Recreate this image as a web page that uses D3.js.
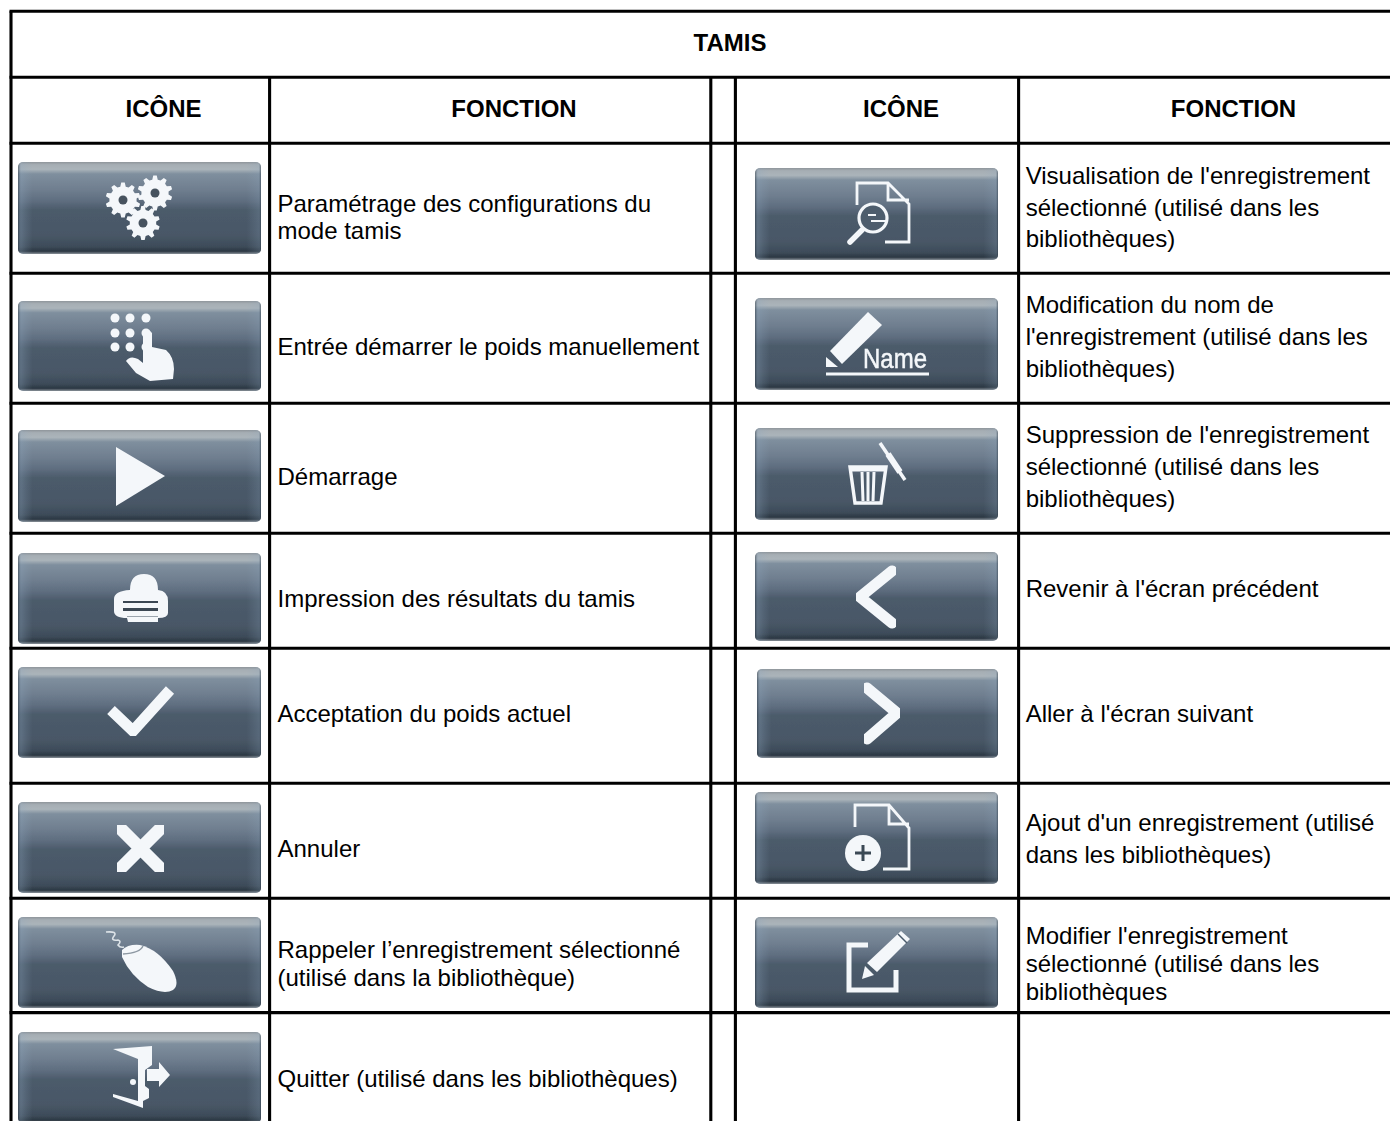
<!DOCTYPE html>
<html>
<head>
<meta charset="utf-8">
<style>
  html, body { margin: 0; padding: 0; background: #fff; overflow: hidden; }
  svg { display: block; }
  text { font-family: 'Liberation Sans', Arial, sans-serif; font-size: 24px; fill: #000; }
</style>
</head>
<body>
<div id="chart"></div>
<script src="https://cdn.jsdelivr.net/npm/d3@7"></script>
<script>
const title = 'TAMIS'
const headers = ['ICÔNE', 'FONCTION', 'ICÔNE', 'FONCTION']

const leftIcons = ['gears', 'keypad', 'play', 'printer', 'check', 'cross', 'mouse', 'exit']
const leftFunctions = [
  ['Paramétrage des configurations du', 'mode tamis'],
  ['Entrée démarrer le poids manuellement'],
  ['Démarrage'],
  ['Impression des résultats du tamis'],
  ['Acceptation du poids actuel'],
  ['Annuler'],
  ['Rappeler l’enregistrement sélectionné', '(utilisé dans la bibliothèque)'],
  ['Quitter (utilisé dans les bibliothèques)']
]

const rightIcons = ['view', 'rename', 'trash', 'back', 'next', 'add', 'edit']
const rightFunctions = [
  ['Visualisation de l\'enregistrement', 'sélectionné (utilisé dans les', 'bibliothèques)'],
  ['Modification du nom de', 'l\'enregistrement (utilisé dans les', 'bibliothèques)'],
  ['Suppression de l\'enregistrement', 'sélectionné (utilisé dans les', 'bibliothèques)'],
  ['Revenir à l\'écran précédent'],
  ['Aller à l\'écran suivant'],
  ['Ajout d\'un enregistrement (utilisé', 'dans les bibliothèques)'],
  ['Modifier l\'enregistrement', 'sélectionné (utilisé dans les', 'bibliothèques']
]

// layout
const width = 1390
const height = 1121
const ruleX = [11, 269.6, 710.8, 735.4, 1018.6]
const ruleY = [11.3, 77.3, 143.3, 273.3, 403.3, 533.3, 648.3, 783.3, 898.3, 1012.6]
const headerX = [163.5, 514, 901, 1233.5]

const leftKeys = d3.range(leftIcons.length)
const rightKeys = d3.range(rightIcons.length)

const leftButtonTop = d3.scaleOrdinal().domain(leftKeys).range([162, 301, 430, 553, 667, 802, 917, 1032])
const leftButtonBottom = d3.scaleOrdinal().domain(leftKeys).range([254, 391, 522, 644, 758, 893, 1008, 1123])
const rightButtonTop = d3.scaleOrdinal().domain(rightKeys).range([168, 298, 428, 552, 669, 792, 917])
const rightButtonBottom = d3.scaleOrdinal().domain(rightKeys).range([260, 390, 520, 641, 758, 884, 1008])

const leftBaseline = d3.scaleOrdinal().domain(leftKeys).range([212, 355, 485, 607, 722, 857, 958, 1087])
const rightBaseline = d3.scaleOrdinal().domain(rightKeys).range([184, 313, 443, 597, 722, 831, 944])
const leftLeading = [27, 0, 0, 0, 0, 0, 28, 0]
const rightLeading = [31.5, 32, 32, 0, 0, 32, 28]

const svg = d3.select('#chart').append('svg').attr('width', width).attr('height', height)
const defs = svg.append('defs')

// button body, light bevel at top and dark at the foot
const grad = defs.append('linearGradient').attr('id', 'btn').attr('x1', 0).attr('x2', 0).attr('y1', 0).attr('y2', 1)
const stops = [
  [0, '#8f959a'], [0.03, '#a6aeb4'], [0.08, '#abb4ba'], [0.13, '#7f8f9e'], [0.3, '#6f7e8f'],
  [0.42, '#5f6e80'], [0.52, '#4c5b6b'], [0.8, '#485766'], [0.92, '#3d4b59'], [0.97, '#2c3743'], [1, '#8a9299']
]
grad.selectAll('stop').data(stops).enter().append('stop')
  .attr('offset', d => d[0]).attr('stop-color', d => d[1])

const side = defs.append('linearGradient').attr('id', 'btnSide').attr('x1', 0).attr('x2', 1).attr('y1', 0).attr('y2', 0)
const sideStops = [
  [0, '#2f3b47', 0.6], [0.012, '#8fa8c0', 0.3], [0.035, '#8fa8c0', 0.14], [0.06, '#8fa8c0', 0],
  [0.94, '#8fa8c0', 0], [0.975, '#8fa8c0', 0.14], [0.99, '#8fa8c0', 0.2], [1, '#2f3b47', 0.6]
]
side.selectAll('stop').data(sideStops).enter().append('stop')
  .attr('offset', d => d[0]).attr('stop-color', d => d[1]).attr('stop-opacity', d => d[2])

defs.append('filter').attr('id', 'soft').append('feGaussianBlur').attr('stdDeviation', 0.6)

// the icons are drawn in the button's own frame, origin at its top left corner
const white = '#f4f7fa'
const dark = '#4a5a6a'

function gearPath(r, teeth) {
  const pts = []
  const step = (Math.PI * 2) / teeth
  d3.range(teeth).forEach(i => {
    const a = i * step
    pts.push([a - step * 0.32, r * 0.78], [a - step * 0.16, r], [a + step * 0.16, r], [a + step * 0.32, r * 0.78])
  })
  return d3.lineRadial().angle(d => d[0]).radius(d => d[1]).curve(d3.curveLinearClosed)(pts)
}

function line(g, d, w, cap) {
  return g.append('path').attr('d', d).attr('fill', 'none').attr('stroke', white)
    .attr('stroke-width', w).attr('stroke-linecap', cap || 'butt')
    .attr('stroke-linejoin', cap ? 'round' : 'miter')
}
function fill(g, d, color) {
  return g.append('path').attr('d', d).attr('fill', color || white)
}

const drawIcon = {
  gears(g) {
    [[105, 38, 17.5], [137, 31, 17.5], [125, 61, 17]].forEach(c => {
      fill(g, gearPath(c[2], 10)).attr('transform', `translate(${c[0]},${c[1]})`)
      g.append('circle').attr('cx', c[0]).attr('cy', c[1]).attr('r', 4.5).attr('fill', '#46525e')
    })
  },
  keypad(g) {
    const xs = [97, 112, 128]
    const ys = [17, 32, 46]
    ys.forEach(y => xs.forEach(x => {
      g.append('circle').attr('cx', x).attr('cy', y).attr('r', 4.5).attr('fill', white)
    }))
    fill(g, 'M125,32 Q129,25 134,32 L134,46 L148,49 Q156,56 156,68 L155,78 L132,80 L118,72 L108,60 Q112,54 120,58 L125,62 Z')
  },
  play(g) {
    fill(g, 'M98,17 L98,76 L147,46 Z')
  },
  printer(g) {
    fill(g, 'M112,37 Q112,21 126,21 Q140,21 140,37 Q150,38 150,48 L150,60 Q150,65 140,65 L140,69 L110,69 L109,65 Q96,65 96,58 L96,46 Q96,38 112,37 Z')
    fill(g, 'M105,48 L140,48 L140,50 L105,50 Z', '#3a4753')
    fill(g, 'M105,55 L140,55 L140,58 L105,58 Z', '#3a4753')
    fill(g, 'M109,63 L140,63 L140,64 L109,64 Z', '#9aa4ad')
  },
  check(g) {
    line(g, 'M93,43 L115,64 L152,23', 11)
  },
  cross(g) {
    line(g, 'M103,27 L142,66 M142,27 L103,66', 13, 'round')
  },
  mouse(g) {
    fill(g, 'M104,33 Q110,27 122,28 Q140,32 155,54 Q162,68 155,73 Q146,78 130,70 Q112,58 104,40 Z')
    g.append('path').attr('d', 'M105,37 Q122,36 125,29').attr('fill', 'none').attr('stroke', '#8d98a2').attr('stroke-width', 1.5)
    g.append('path').attr('d', 'M88,15 Q100,14 96,19 Q92,24 100,23 Q104,24 100,28 Q102,31 106,30')
      .attr('fill', 'none').attr('stroke', '#dde3e8').attr('stroke-width', 1.6)
  },
  exit(g) {
    fill(g, 'M95,17 L134,14 L134,33 L127,38 L127,54 L131,57 L131,66 L125,69 L125,76 L95,65 L95,62 L120,69 L120,27 Z')
    fill(g, 'M129,37 L141,37 L141,30 L152,43 L141,55 L141,49 L129,49 Z')
    g.append('circle').attr('cx', 115).attr('cy', 50).attr('r', 3).attr('fill', white)
  },
  view(g) {
    line(g, 'M102,37 L102,15 L133,15 L154,36 L154,74 L130,74 M133,15 L133,32 L154,32', 2.8)
    g.append('circle').attr('cx', 118).attr('cy', 50).attr('r', 14).attr('fill', '#4d5d6d')
      .attr('stroke', white).attr('stroke-width', 3.2)
    line(g, 'M113,47 L121,47 M116,53 L132,53', 2.2)
    line(g, 'M107,62 L95,74', 5.5, 'round')
  },
  rename(g) {
    fill(g, 'M113,14 L127,27 L87,66 L75,53 Z')
    fill(g, 'M71,59 L71,69 L83,69 Z')
    g.append('text').attr('x', 108).attr('y', 70).attr('textLength', 64).attr('lengthAdjust', 'spacingAndGlyphs')
      .style('fill', white).style('stroke', white).style('stroke-width', 0.5).style('font-size', '28px').text('Name')
    line(g, 'M71,76 L174,76', 3)
  },
  trash(g) {
    line(g, 'M95,39 L131,39 L126,75 L100,75 Z', 3.4)
    line(g, 'M94,41 L132,41', 5)
    line(g, 'M107,44 L108,73 M113,44 L113,73 M119,44 L118,73', 3)
    line(g, 'M125,15 L150,52', 3.5)
    line(g, 'M133,26 L145,44', 6)
  },
  back(g) {
    line(g, 'M137,19 L105,45 L137,71', 11, 'round')
  },
  next(g) {
    line(g, 'M112,19 L142,44 L112,70', 11, 'round')
  },
  add(g) {
    line(g, 'M100,35 L100,13 L134,13 L154,36 L154,77 L128,77 M134,13 L134,32 L154,32', 2.8)
    g.append('circle').attr('cx', 108).attr('cy', 61).attr('r', 18).attr('fill', white)
    g.append('path').attr('d', 'M100,61 L116,61 M108,53 L108,69').attr('stroke', '#3b4854').attr('stroke-width', 3)
  },
  edit(g) {
    line(g, 'M113,28 L94,28 L94,73 L141,73 L141,53', 5)
    fill(g, 'M146,14 L155,22 L122,55 L112,46 Z')
    fill(g, 'M110,49 L119,58 L107,62 Z')
    g.append('path').attr('d', 'M143,17 L152,26').attr('stroke', dark).attr('stroke-width', 1.5)
  }
}

// buttons
function buttons(keys, names, x0, x1, top, bottom) {
  keys.forEach(i => {
    const h = bottom(i) - top(i)
    const x = names[i] === 'next' ? x0 + 2 : x0
    const g = svg.append('g').attr('transform', `translate(${x},${top(i)})`)
    g.append('rect').attr('width', x1 - x).attr('height', h).attr('rx', 5).attr('fill', 'url(#btn)').attr('filter', 'url(#soft)')
    g.append('rect').attr('width', x1 - x).attr('height', h).attr('rx', 5).attr('fill', 'url(#btnSide)')
    const icon = g.append('g').attr('filter', 'url(#soft)')
    // icons are placed from the button's regular left edge so the narrower one stays put
    if (x !== x0) icon.attr('transform', `translate(${x0 - x},0)`)
    drawIcon[names[i]](icon)
  })
}

buttons(leftKeys, leftIcons, 18, 261, leftButtonTop, leftButtonBottom)
buttons(rightKeys, rightIcons, 755, 998, rightButtonTop, rightButtonBottom)

// grid lines
svg.append('g').selectAll('line').data(ruleY).enter().append('line')
  .attr('x1', 9.5).attr('x2', width).attr('y1', d => d).attr('y2', d => d)
  .attr('stroke', '#000').attr('stroke-width', 3.1)

svg.append('g').selectAll('line').data(ruleX).enter().append('line')
  .attr('x1', d => d).attr('x2', d => d)
  .attr('y1', (d, i) => (i === 0 ? ruleY[0] : ruleY[1]))
  .attr('y2', height)
  .attr('stroke', '#000').attr('stroke-width', 3.1)

// header text
svg.append('text').attr('x', 730).attr('y', 51).attr('text-anchor', 'middle')
  .style('font-weight', 'bold').text(title)

svg.append('g').selectAll('text').data(headers).enter().append('text')
  .attr('x', (d, i) => headerX[i]).attr('y', 117).attr('text-anchor', 'middle')
  .style('font-weight', 'bold').text(d => d)

// function text
function cellText(lines, x, baseline, leading) {
  const g = svg.append('g')
  lines.forEach((rows, i) => {
    g.selectAll(null).data(rows).enter().append('text')
      .attr('x', x)
      .attr('y', (d, j) => baseline(i) + j * leading[i])
      .text(d => d)
  })
}

cellText(leftFunctions, 277.5, leftBaseline, leftLeading)
cellText(rightFunctions, 1025.7, rightBaseline, rightLeading)
</script>
</body>
</html>
